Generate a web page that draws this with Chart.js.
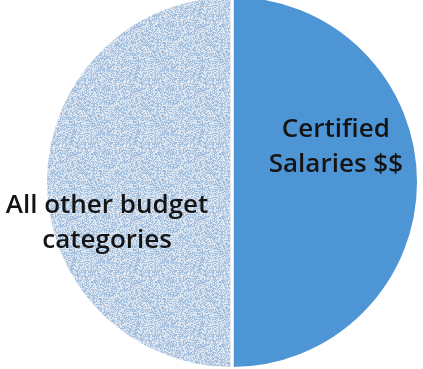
<!DOCTYPE html>
<html>
<head>
<meta charset="utf-8">
<script src="https://cdn.jsdelivr.net/npm/chart.js@4/dist/chart.umd.min.js"></script>
<style>
  html, body { margin: 0; padding: 0; background: #fff; overflow: hidden; }
  #wrap { position: absolute; left: 0; top: -6px; width: 423px; height: 376px; }
</style>
</head>
<body>
<div id="wrap"><canvas id="graficoPizza"></canvas></div>
<script>
// dados do gráfico
const categorias = ['Certified Salaries $$', 'All other budget categories'];
const rotulos = [['Certified', 'Salaries $$'], ['All other budget', 'categories']];
const valores = [50, 50];

// textura pontilhada da fatia clara (hash fixo, sem aleatório)
function texturaPontilhada() {
  const n = 64;
  const c = document.createElement('canvas');
  c.width = n; c.height = n;
  const g = c.getContext('2d');
  g.fillStyle = 'rgb(162,190,221)';
  g.fillRect(0, 0, n, n);
  for (let y = 0; y < n; y++) {
    for (let x = 0; x < n; x++) {
      let h = (x * 374761393 + y * 668265263) >>> 0;
      h = Math.imul(h ^ (h >>> 13), 1274126177) >>> 0;
      h = (h ^ (h >>> 16)) >>> 0;
      const v = h % 10;
      if (v < 4) {
        g.fillStyle = 'rgb(222,231,242)';
        g.fillRect(x, y, 1, 1);
      } else if (v < 6) {
        g.fillStyle = 'rgb(196,211,230)';
        g.fillRect(x, y, 1, 1);
      }
    }
  }
  return g.createPattern(c, 'repeat');
}

// rótulos escritos dentro das fatias
const rotulosFatias = {
  id: 'rotulosFatias',
  afterDraw(chart) {
    const ctx = chart.ctx;
    const arcos = chart.getDatasetMeta(0).data;
    // centro horizontal e primeira linha de base, em fração do raio
    const desloc = [[0.557, -0.243], [-0.67, 0.168]];
    ctx.save();
    ctx.font = '600 26px "Open Sans", sans-serif';
    ctx.fillStyle = '#141414';
    ctx.textAlign = 'center';
    ctx.textBaseline = 'alphabetic';
    arcos.forEach((arco, i) => {
      const r = arco.outerRadius;
      const cx = arco.x + desloc[i][0] * r;
      const cy = arco.y + desloc[i][1] * r;
      rotulos[i].forEach((t, j) => {
        ctx.fillText(t, cx, cy + j * 35);
      });
    });
    ctx.restore();
  }
};

const ctx = document.getElementById('graficoPizza').getContext('2d');
new Chart(ctx, {
  type: 'pie',
  data: {
    labels: categorias,
    datasets: [{
      data: valores,
      backgroundColor: ['#4e95d6', texturaPontilhada()],
      borderColor: '#ffffff',
      borderWidth: 3
    }]
  },
  options: {
    responsive: true,
    maintainAspectRatio: false,
    animation: false,
    layout: { padding: { left: 41 } },
    plugins: {
      legend: { display: false },
      tooltip: { enabled: false }
    }
  },
  plugins: [rotulosFatias]
});
</script>
</body>
</html>
